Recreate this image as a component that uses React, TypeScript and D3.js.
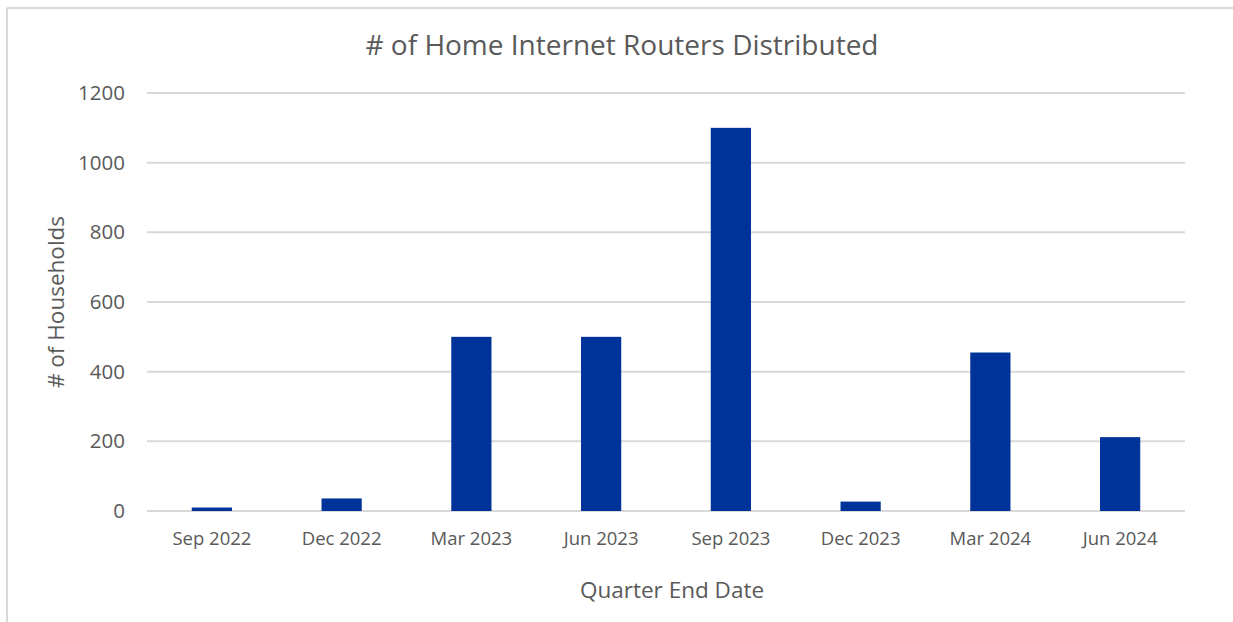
import React from "react";
import * as d3 from "d3";

const categories = ["Sep 2022", "Dec 2022", "Mar 2023", "Jun 2023", "Sep 2023", "Dec 2023", "Mar 2024", "Jun 2024"];
const values = [10, 36, 500, 500, 1100, 27, 455, 212];
const yTicks = [0, 200, 400, 600, 800, 1000, 1200];

const W = 1233;
const H = 622;
const M = { left: 147, right: 1185, top: 93, bottom: 511 };
const FONT = "'Open Sans', sans-serif";
const TXT = "#595959";

export default function App() {
  const x = d3.scaleBand<string>().domain(categories).range([M.left, M.right]).paddingInner(0.69).paddingOuter(0.345);
  const y = d3.scaleLinear().domain([0, 1200]).range([M.bottom, M.top]);
  return (
    <svg width={W} height={H} style={{ position: "absolute", left: 0, top: 0, background: "#fff" }}>
      <rect x={0} y={0} width={W} height={H} fill="#fff" />
      <line x1={7} x2={W} y1={8} y2={8} stroke="#d9d9d9" strokeWidth={2} />
      <line x1={7} x2={7} y1={8} y2={H} stroke="#d9d9d9" strokeWidth={2} />
      <text x={622} y={55} textAnchor="middle" fontFamily={FONT} fontSize={28} fill={TXT}>
        # of Home Internet Routers Distributed
      </text>
      {yTicks.map((t) => (
        <g key={t}>
          <line x1={M.left} x2={M.right} y1={y(t)} y2={y(t)} stroke="#d9d9d9" strokeWidth={2} />
          <text x={125} y={y(t) + 7} textAnchor="end" fontFamily={FONT} fontSize={20.5} fill={TXT}>
            {t}
          </text>
        </g>
      ))}
      {categories.map((c, i) => (
        <g key={c}>
          <rect x={x(c)} y={y(values[i])} width={x.bandwidth()} height={y(0) - y(values[i])} fill="#003399" />
          <text x={(x(c) as number) + x.bandwidth() / 2} y={545} textAnchor="middle" fontFamily={FONT} fontSize={18.5} fill={TXT}>
            {c}
          </text>
        </g>
      ))}
      <text x={672} y={598} textAnchor="middle" fontFamily={FONT} fontSize={22.5} fill={TXT}>
        Quarter End Date
      </text>
      <text transform={`translate(64,302) rotate(-90)`} textAnchor="middle" fontFamily={FONT} fontSize={22.5} fill={TXT}>
        # of Households
      </text>
    </svg>
  );
}
